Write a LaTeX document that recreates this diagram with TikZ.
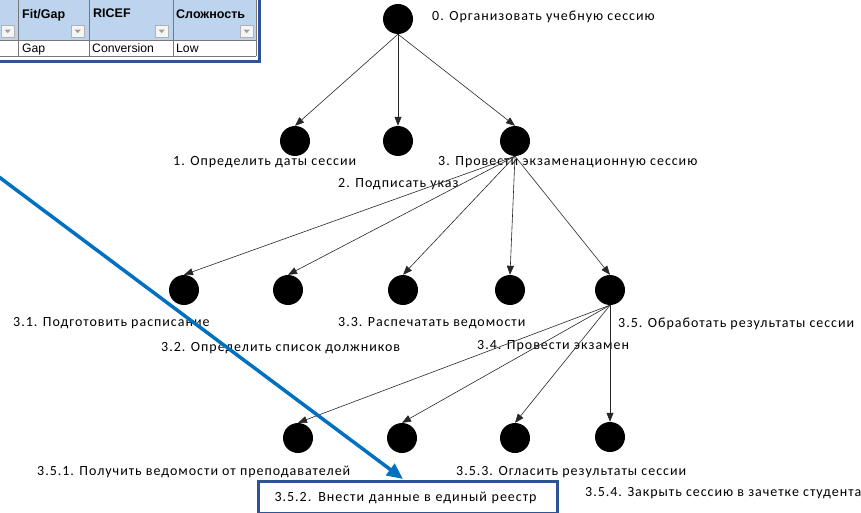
\documentclass[tikz,border=0pt]{standalone}
\usepackage{fontspec}
\setmainfont{Carlito}
\newfontfamily\lblfont[LetterSpace=7]{Carlito}
\newfontfamily\tablefont{Liberation Sans}
\usetikzlibrary{arrows.meta}

\definecolor{hdrblue}{RGB}{189,212,238}
\definecolor{framblue}{RGB}{47,84,150}
\definecolor{linkblue}{RGB}{0,112,192}
\definecolor{gridgray}{RGB}{120,120,120}

\tikzset{
  task/.style={circle, fill=black, minimum size=30pt, inner sep=0pt},
  lbl/.style={anchor=base west, inner sep=0pt, font=\lblfont\fontsize{14}{16}\selectfont},
  link/.style={-{Triangle[length=9pt,width=7pt]}, line width=0.6pt, draw=black!85},
  hdr/.style={anchor=base west, inner sep=0pt, font=\tablefont\bfseries\fontsize{12.5}{14}\selectfont},
  cell/.style={anchor=base west, inner sep=0pt, font=\tablefont\fontsize{12.2}{14}\selectfont},
  dropbtn/.style={draw=gray!60, fill=gray!8, minimum width=13pt, minimum height=12pt, inner sep=0pt,
    anchor=north west},
  bluearrow/.style={-{Triangle[length=16pt,width=14pt]}, line width=3.5pt, draw=linkblue}
}

\begin{document}
\begin{tikzpicture}[x=1pt,y=-1pt]
\useasboundingbox (0,0) rectangle (861,513);

% --- spreadsheet fragment in the corner
\fill[hdrblue] (0,0) rectangle (256,40);
\fill[white] (0,40) rectangle (256,56);
\foreach \cx in {18,89,173,256}
  \draw[gridgray, line width=0.6pt] (\cx,0) -- (\cx,56);
\draw[gridgray, line width=0.6pt] (0,40) -- (256,40);
\draw[gridgray, line width=0.6pt] (0,56) -- (256,56);
\foreach \bx/\bn in {1/dd0, 71/dd1, 155/dd2, 240/dd3} {
  \node[dropbtn] (\bn) at (\bx,25) {};
  \fill[gray!75] ([xshift=-3pt,yshift=1.5pt]\bn.center) -- ([xshift=3pt,yshift=1.5pt]\bn.center)
     -- ([yshift=-2pt]\bn.center) -- cycle;
}
\node[hdr] (h1) at (22,19) {Fit/Gap};
\node[hdr] (h2) at (93,18) {RICEF};
\node[hdr] (h3) at (176,19) {Сложность};
\node[cell] (c1) at (22,53) {Gap};
\node[cell] (c2) at (92,53) {Conversion};
\node[cell] (c3) at (176,53) {Low};
\draw[framblue, line width=3.5pt] (-10,-10) rectangle (259.5,61.5);

% --- task tree
\node[task] (n0)   at (398,19) {};
\node[task] (n1)   at (295,141) {};
\node[task] (n2)   at (398,141) {};
\node[task] (n3)   at (515,141) {};
\node[task] (n31)  at (184,290) {};
\node[task] (n32)  at (288,290) {};
\node[task] (n33)  at (403,290) {};
\node[task] (n34)  at (510,290) {};
\node[task] (n35)  at (610,290) {};
\node[task] (n351) at (298,438) {};
\node[task] (n352) at (402,438) {};
\node[task] (n353) at (515,438) {};
\node[task] (n354) at (610,437) {};

\node[lbl] (l0)   at (432,21)  {0. Организовать учебную сессию};
\node[lbl] (l1)   at (173,166) {1. Определить даты сессии};
\node[lbl] (l2)   at (338,187) {2. Подписать указ};
\node[lbl] (l3)   at (438,166) {3. Провести экзаменационную сессию};
\node[lbl] (l31)  at (13,326)  {3.1. Подготовить расписание};
\node[lbl] (l32)  at (161,351) {3.2. Определить список должников};
\node[lbl] (l33)  at (338,326) {3.3. Распечатать ведомости};
\node[lbl] (l34)  at (477,349) {3.4. Провести экзамен};
\node[lbl] (l35)  at (618,327) {3.5. Обработать результаты сессии};
\node[lbl] (l351) at (37,475)  {3.5.1. Получить ведомости от преподавателей};
\node[lbl] (l353) at (456,475) {3.5.3. Огласить результаты сессии};
\node[lbl] (l354) at (585,496) {3.5.4. Закрыть сессию в зачетке студента};

\node[draw=framblue, line width=3pt, anchor=north west, text width=267pt, inner xsep=16pt,
      minimum height=32pt, align=left, font=\lblfont\fontsize{14}{16}\selectfont] (reg) at (257,480)
      {3.5.2. Внести данные в единый реестр};

\foreach \c in {n1,n2,n3}
  \draw[link] (n0.south) -- (\c.north);
\foreach \c in {n31,n32,n33,n34,n35}
  \draw[link] (n3.south) -- (\c.north);
\foreach \c in {n351,n352,n353,n354}
  \draw[link] (n35.south) -- (\c.north);

% --- highlight pointer
\coordinate (bstart) at (-5,174);
\coordinate (btip) at (403,479);
\draw[bluearrow] (bstart) -- (btip);
\end{tikzpicture}
\end{document}
